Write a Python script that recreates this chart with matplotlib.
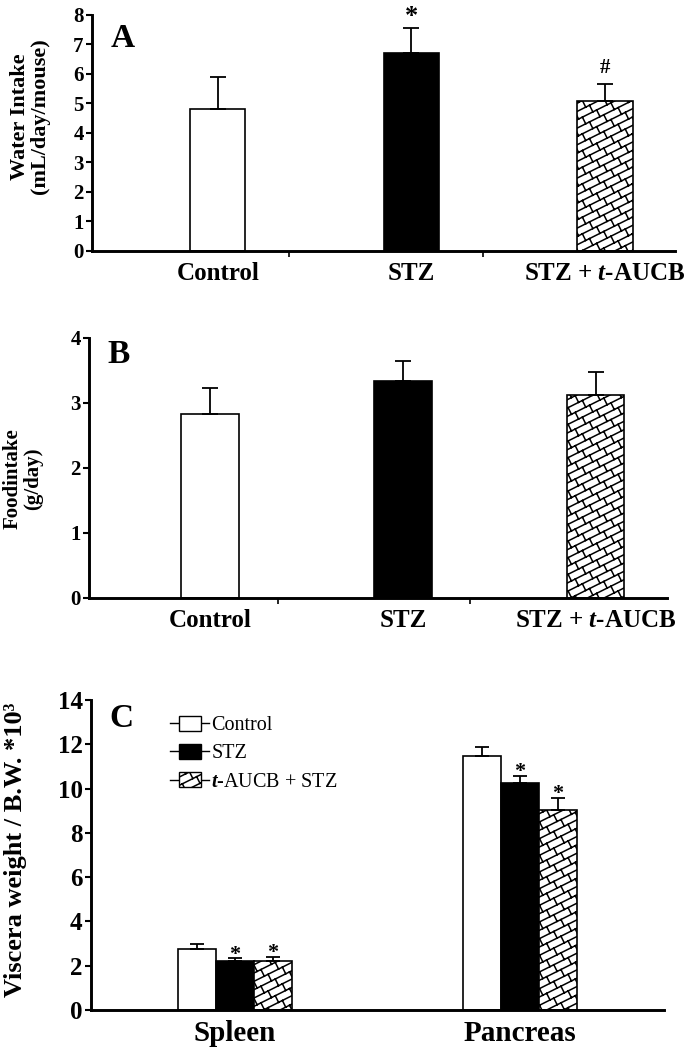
import numpy as np
import matplotlib
matplotlib.use("Agg")
import matplotlib.pyplot as plt
import matplotlib.hatch as mhatch
from matplotlib.path import Path
from matplotlib.patches import Rectangle
from matplotlib.lines import Line2D
from matplotlib.legend_handler import HandlerBase

# ---------------- data ----------------
groups_ab = ["Control", "STZ", r"STZ + $\mathbfit{t}$-AUCB"]
water = [4.81, 6.72, 5.08]
water_err = [1.09, 0.83, 0.57]
water_marks = ["", "*", "#"]
food = [2.83, 3.34, 3.12]
food_err = [0.40, 0.31, 0.36]

organs = ["Spleen", "Pancreas"]
visc_control = [2.74, 11.47]
visc_control_err = [0.24, 0.42]
visc_stz = [2.21, 10.24]
visc_stz_err = [0.12, 0.34]
visc_aucb = [2.21, 9.03]
visc_aucb_err = [0.20, 0.56]
visc_marks = ["", "*", "*"]
legend_labels = ["Control", "STZ", r"$\mathit{t}$-AUCB + STZ"]

faces = ["white", "black", "white"]
hatches = [None, None, "/"]


# ------------- brick hatch (periodic in the 1-inch hatch cell) -------------
class BrickHatch(mhatch.HatchPatternBase):
    def __init__(self, hatch, density):
        n = hatch.count("/")
        segs = []
        if n:
            M = 12          # rows of bricks per unit (multiple of 4)
            per = 7         # bricks per unit horizontally
            L = 1.0 / per
            t = 2.0 / (5 * M)
            for k in range(-M // 2 - 2, M + 2):
                c = k / M
                segs.append(((-0.3, -0.15 + c), (1.3, 0.65 + c)))
                for j in range(-3, per + 3):
                    x0 = (j + (k % 2) / 2.0) * L
                    y0 = x0 / 2 + c
                    segs.append(((x0, y0), (x0 - t, y0 + 2 * t)))
        self.segs = segs
        self.num_vertices = 2 * len(segs)

    def set_vertices_and_codes(self, vertices, codes):
        for i, (p, q) in enumerate(self.segs):
            vertices[2 * i] = p
            vertices[2 * i + 1] = q
            codes[2 * i] = Path.MOVETO
            codes[2 * i + 1] = Path.LINETO


mhatch._hatch_types = [BrickHatch]

plt.rcParams["font.family"] = ["Liberation Serif", "DejaVu Serif"]
plt.rcParams["font.weight"] = "bold"
plt.rcParams["axes.labelweight"] = "bold"
plt.rcParams["mathtext.fontset"] = "custom"
plt.rcParams["mathtext.rm"] = "Liberation Serif:bold"
plt.rcParams["mathtext.bf"] = "Liberation Serif:bold"
plt.rcParams["mathtext.it"] = "Liberation Serif:italic"
plt.rcParams["mathtext.bfit"] = "Liberation Serif:italic:bold"
plt.rcParams["hatch.linewidth"] = 1.1

fig = plt.figure(figsize=(6.97, 10.5), dpi=100)


def style_axes(ax, ymax, step, ticksize):
    for s in ["top", "right"]:
        ax.spines[s].set_visible(False)
    for s in ["left", "bottom"]:
        ax.spines[s].set_linewidth(2.1)
    ax.set_ylim(0, ymax)
    ax.set_yticks(np.arange(0, ymax + 0.01, step))
    ax.tick_params(axis="y", direction="out", length=4, width=1.5,
                   labelsize=ticksize, pad=2)


def simple_panel(ax, vals, errs, marks, ymax, letter, ylabel, xlim, width,
                 ylab_xy, letter_y, ylab_size, minor_ticks):
    x = np.arange(len(vals))
    for i in range(len(vals)):
        ax.bar(x[i], vals[i], width=width, color=faces[i], edgecolor="black",
               hatch=hatches[i], linewidth=1.2, zorder=2)
    ax.errorbar(x, vals, yerr=[np.zeros(len(vals)), errs], fmt="none",
                ecolor="black", elinewidth=1.3, capsize=6, capthick=1.3,
                zorder=3)
    for i, m in enumerate(marks):
        if m == "*":
            ax.annotate(m, (x[i], vals[i] + errs[i]), xytext=(0, 4),
                        textcoords="offset points", ha="center",
                        va="baseline", fontsize=19, annotation_clip=False)
        elif m:
            ax.annotate(m, (x[i], vals[i] + errs[i]), xytext=(0, 8),
                        textcoords="offset points", ha="center",
                        va="baseline", fontsize=15, annotation_clip=False)
    style_axes(ax, ymax, 1, 15)
    ax.set_xlim(*xlim)
    ax.set_xticks(x)
    ax.set_xticklabels(groups_ab, fontsize=18)
    ax.tick_params(axis="x", which="major", length=0, pad=8)
    ax.set_xticks(minor_ticks, minor=True)
    ax.tick_params(axis="x", which="minor", direction="out", length=4,
                   width=1.2)
    ax.set_ylabel(ylabel, fontsize=ylab_size, linespacing=1.0,
                  fontweight="bold")
    ax.yaxis.set_label_coords(*ylab_xy)
    ax.text(0.032, letter_y, letter, transform=ax.transAxes, fontsize=24,
            va="baseline", ha="left")


# Panel A
axA = fig.add_axes([0.132, 0.761, 0.836, 0.2248])
simple_panel(axA, water, water_err, water_marks, 8, "A",
             "Water Intake\n(mL/day/mouse)", (-0.65, 2.36), 0.285,
             (-0.072, 0.57), 0.865, 16, [0.37, 1.37])

# Panel B
axB = fig.add_axes([0.1277, 0.4305, 0.829, 0.2476])
simple_panel(axB, food, food_err, ["", "", ""], 4, "B",
             "Foodintake\n(g/day)", (-0.63, 2.37), 0.30,
             (-0.08, 0.46), 0.904, 15, [0.35, 1.35])

# Panel C
axC = fig.add_axes([0.1306, 0.0381, 0.822, 0.2952])
xc = np.arange(len(organs))
bw = 0.133
series = [(visc_control, visc_control_err), (visc_stz, visc_stz_err),
          (visc_aucb, visc_aucb_err)]
handles = []
for j, (vals, errs) in enumerate(series):
    pos = xc + (j - 1) * bw
    b = axC.bar(pos, vals, width=bw, color=faces[j], edgecolor="black",
                hatch=hatches[j], linewidth=1.2, zorder=2,
                label=legend_labels[j])
    handles.append(b.patches[0])
    axC.errorbar(pos, vals, yerr=[np.zeros(len(vals)), errs], fmt="none",
                 ecolor="black", elinewidth=1.3, capsize=5, capthick=1.3,
                 zorder=3)
    if visc_marks[j]:
        for p, v, e in zip(pos, vals, errs):
            axC.annotate(visc_marks[j], (p, v + e), xytext=(0, -1),
                         textcoords="offset points", ha="center",
                         va="baseline", fontsize=16, annotation_clip=False)

style_axes(axC, 14, 2, 18)
axC.set_xlim(-0.505, 1.505)
axC.set_xticks(xc)
axC.set_xticklabels(organs, fontsize=21)
axC.tick_params(axis="x", length=0, pad=7)
axC.set_ylabel("Viscera weight / B.W. *10\u00b3", fontsize=19,
               fontweight="bold")
axC.yaxis.set_label_coords(-0.112, 0.516)
axC.text(0.032, 0.913, "C", transform=axC.transAxes, fontsize=24,
         va="baseline", ha="left")


class LineBoxHandler(HandlerBase):
    def create_artists(self, legend, orig_handle, xdescent, ydescent, width,
                       height, fontsize, trans):
        cy = height / 2 - ydescent
        line = Line2D([-xdescent, -xdescent + width], [cy, cy],
                      color="black", lw=1.0, transform=trans)
        bwid = width * 0.56
        bh = height * 0.95
        rect = Rectangle((-xdescent + (width - bwid) / 2, cy - bh / 2), bwid,
                         bh, facecolor=orig_handle.get_facecolor(),
                         edgecolor="black", hatch=orig_handle.get_hatch(),
                         lw=1.0, transform=trans)
        return [line, rect]


axC.legend(handles=handles, labels=legend_labels,
           handler_map={Rectangle: LineBoxHandler()},
           loc="upper left", bbox_to_anchor=(0.138, 0.95), frameon=False,
           prop={"family": "Liberation Serif", "weight": "normal",
                 "size": 14.5},
           handlelength=1.95, handleheight=0.8, handletextpad=0.1,
           labelspacing=0.42, borderpad=0, borderaxespad=0)

fig.savefig("out.png", dpi=100)
